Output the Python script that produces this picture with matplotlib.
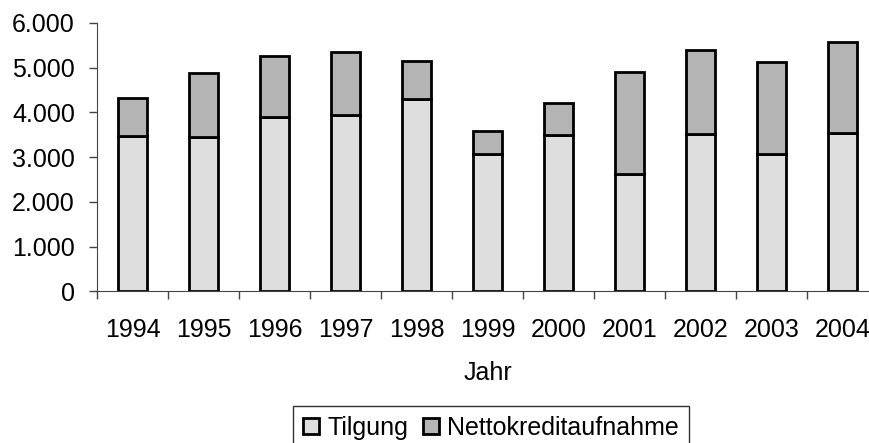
import matplotlib
matplotlib.use("Agg")
import matplotlib.pyplot as plt
from matplotlib.ticker import FuncFormatter
import numpy as np

years = ["1994", "1995", "1996", "1997", "1998", "1999", "2000", "2001", "2002", "2003", "2004"]
tilgung = [3470, 3460, 3890, 3940, 4300, 3070, 3490, 2630, 3520, 3070, 3535]
gesamt = [4320, 4880, 5260, 5360, 5145, 3585, 4205, 4900, 5400, 5120, 5580]
netto = [g - t for g, t in zip(gesamt, tilgung)]

plt.rcParams["font.family"] = ["Liberation Sans", "DejaVu Sans"]
FS = 18
W, H = 869, 443

fig = plt.figure(figsize=(W / 100, H / 100), dpi=100)
# plot area runs a little past the right edge, as in the original
ax = fig.add_axes([97 / W, 1 - 291.3 / H, 781 / W, 268.3 / H])

x = np.arange(len(years))
ax.bar(x, tilgung, width=0.42, color="#dedede", edgecolor="black", linewidth=2, label="Tilgung")
ax.bar(x, netto, width=0.42, bottom=tilgung, color="#b4b4b4", edgecolor="black", linewidth=2,
       label="Nettokreditaufnahme")

ax.set_xlim(-0.5, len(years) - 0.5)
ax.set_ylim(0, 6000)
ax.set_yticks(range(0, 6001, 1000))
ax.yaxis.set_major_formatter(FuncFormatter(lambda v, p: f"{int(v):,}".replace(",", ".")))
ax.set_xticks(x)
ax.set_xticklabels(years)
ax.set_xticks(np.arange(-0.5, len(years)), minor=True)
ax.tick_params(axis="x", which="major", length=0, pad=19, labelsize=FS)
ax.tick_params(axis="x", which="minor", length=6, width=1, color="#444444", direction="out")
ax.tick_params(axis="y", length=6, width=1, color="#444444", labelsize=FS, pad=10)

for s in ["top", "right"]:
    ax.spines[s].set_visible(False)
ax.spines["left"].set_color("#444444")
ax.spines["bottom"].set_color("#444444")

ax.set_xlabel("Jahr", fontsize=FS, labelpad=14)

leg = fig.legend(loc="upper left", bbox_to_anchor=(293 / W, 1 - 406 / H), borderaxespad=0,
                 ncol=2, fontsize=FS, frameon=True, fancybox=False, edgecolor="black",
                 handlelength=0.64, handleheight=0.64, handletextpad=0.32,
                 columnspacing=0.6, borderpad=0.4)
leg.get_frame().set_linewidth(1)

fig.savefig("out.png", dpi=100)
